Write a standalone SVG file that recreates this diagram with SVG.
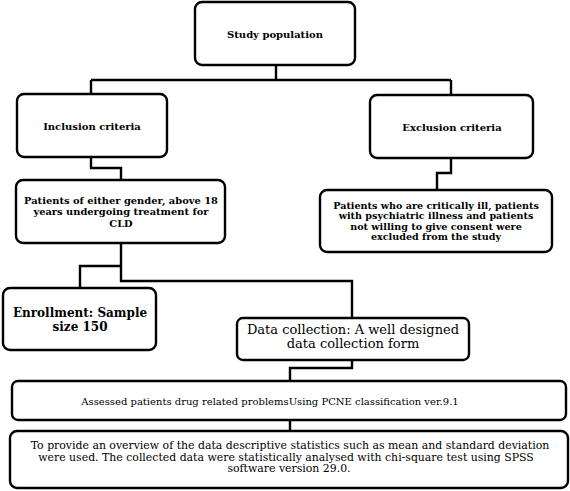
<svg xmlns="http://www.w3.org/2000/svg" width="570" height="491" viewBox="0 0 570 491">
<style>
.box{fill:#fff;stroke:#000;stroke-width:2.4}
.con{fill:none;stroke:#000;stroke-width:2.4}
text{font-family:"DejaVu Serif","Liberation Serif",serif;fill:#000;text-anchor:middle}
.b{font-weight:bold}
</style>
<rect width="570" height="491" fill="#fff"/>
<g id="connectors">
<path class="con" d="M276,65 V80 M91,80 H451 M91,80 V94 M451,80 V95"/>
<path class="con" d="M91,157 V168 H121 V180"/>
<path class="con" d="M451,158 V173 H437 V190"/>
<path class="con" d="M121,243 V281 H352 V318 M121,266 H80 V288"/>
<path class="con" d="M352,360 V368 H290 V381"/>
<path class="con" d="M290,420 V431"/>
</g>
<g id="study">
<rect class="box" x="195" y="2" width="160" height="63" rx="7"/>
<text class="b" x="275" y="38" font-size="10">Study population</text>
</g>
<g id="inclusion">
<rect class="box" x="17" y="94" width="150" height="63" rx="7"/>
<text class="b" x="92" y="130" font-size="10">Inclusion criteria</text>
</g>
<g id="exclusion">
<rect class="box" x="370" y="95" width="163" height="63" rx="7"/>
<text class="b" x="452" y="131" font-size="10">Exclusion criteria</text>
</g>
<g id="inclusion-detail">
<rect class="box" x="16" y="180" width="209" height="63" rx="7"/>
<text class="b" x="121" font-size="9.9"><tspan x="121" y="203.5">Patients of either gender, above 18</tspan><tspan x="121" y="215">years undergoing treatment for</tspan><tspan x="121" y="226.5">CLD</tspan></text>
</g>
<g id="exclusion-detail">
<rect class="box" x="320" y="190" width="232" height="62" rx="7"/>
<text class="b" x="436" font-size="9.6"><tspan x="436" y="208.5">Patients who are critically ill, patients</tspan><tspan x="436" y="219">with psychiatric  illness and patients</tspan><tspan x="436" y="229.5">not willing to give consent were</tspan><tspan x="436" y="240">excluded from the study</tspan></text>
</g>
<g id="enrollment">
<rect class="box" x="3" y="288" width="153" height="62" rx="7"/>
<text class="b" x="80" font-size="12"><tspan x="80" y="317">Enrollment: Sample</tspan><tspan x="80" y="331">size 150</tspan></text>
</g>
<g id="data-collection">
<rect class="box" x="237" y="318" width="232" height="42" rx="6"/>
<text x="353" font-size="13"><tspan x="353" y="334">Data collection: A well designed</tspan><tspan x="353" y="348">data collection form</tspan></text>
</g>
<g id="assessed">
<rect class="box" x="12" y="381" width="554" height="39" rx="6"/>
<text x="270" y="404.5" font-size="10">Assessed patients drug related problemsUsing PCNE classification ver.9.1</text>
</g>
<g id="analysis">
<rect class="box" x="10" y="431" width="558" height="57" rx="7"/>
<text font-size="10.9"><tspan x="290" y="449">To provide an overview of the data descriptive statistics such as mean and standard deviation</tspan><tspan x="286" y="460.5">were used. The collected data were statistically analysed with chi-square test using SPSS</tspan><tspan x="289" y="472">software version 29.0.</tspan></text>
</g>
</svg>
